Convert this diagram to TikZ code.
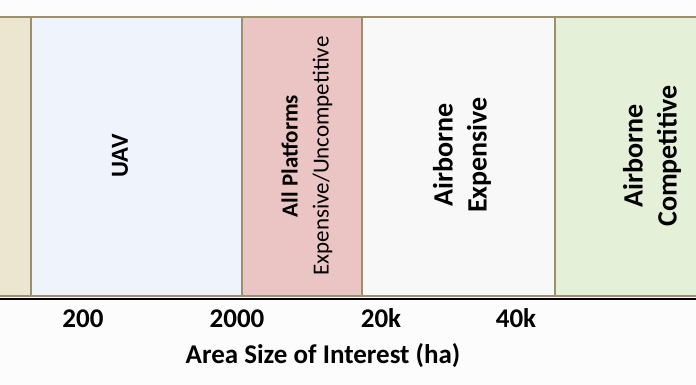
\documentclass[tikz,border=0pt]{standalone}
\usepackage{fontspec}
\setmainfont{Carlito}
\definecolor{bdr}{HTML}{9C8F6C}
\definecolor{cbeige}{HTML}{ECE5D0}
\definecolor{cuav}{HTML}{EFF3FC}
\definecolor{cred}{HTML}{EBC5C4}
\definecolor{cwhite}{HTML}{F8F8F8}
\definecolor{cgreen}{HTML}{E5F0D8}
\begin{document}
\begin{tikzpicture}[x=1pt,y=-1pt,
  band/.style={draw=bdr,line width=1.4pt},
  vlabel/.style={rotate=90,align=center,inner sep=0pt,text=black},
  tick/.style={font=\fontsize{27}{30}\selectfont\bfseries,inner sep=0pt,anchor=base,text=black}]
\useasboundingbox (0,0) rectangle (696,385);
\fill[white!99!black] (0,0) rectangle (696,385);
\path[band,fill=cbeige] (-2,17) rectangle (31,296);
\path[band,fill=cuav] (31,17) rectangle (242,296);
\path[band,fill=cred] (242,17) rectangle (362,296);
\path[band,fill=cwhite] (362,17) rectangle (555,296);
\path[band,fill=cgreen] (555,17) rectangle (698,296);
\draw[black,line width=2.6pt] (0,298.8) -- (696,298.8);
\node[vlabel,font=\fontsize{24.5}{28}\selectfont\bfseries] (uav) at (120,156) {UAV};
\node[vlabel,font=\fontsize{23}{31}\selectfont] (allp) at (307,156) {\textbf{All Platforms}\\Expensive/Uncompetitive};
\node[vlabel,font=\fontsize{28}{34}\selectfont\bfseries] (airexp) at (462,155) {Airborne\\Expensive};
\node[vlabel,font=\fontsize{28}{34}\selectfont\bfseries] (aircomp) at (652,156) {Airborne\\Competitive};
\node[tick] (t200) at (83,327) {200};
\node[tick] (t2000) at (237,327) {2000};
\node[tick] (t20k) at (381,327) {20k};
\node[tick] (t40k) at (516,327) {40k};
\node[tick] (axis) at (323,363) {Area Size of Interest (ha)};
\end{tikzpicture}
\end{document}
